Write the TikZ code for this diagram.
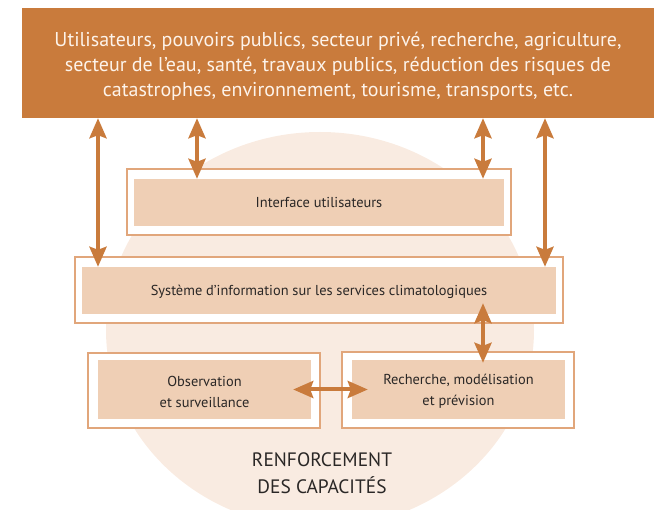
\documentclass[tikz,border=0pt]{standalone}
\usepackage{fontspec}
\setmainfont{PT Sans}
\usetikzlibrary{arrows.meta}
\definecolor{ocre}{HTML}{C97B3C}
\definecolor{peach}{HTML}{EFCFB5}
\definecolor{edge}{HTML}{E1A67B}
\definecolor{disc}{HTML}{F9EBE1}
\definecolor{txt}{HTML}{2A2726}
\definecolor{cream}{HTML}{FDF3EA}
\tikzset{
  outerbox/.style={draw=edge, line width=1.4pt, fill=white, inner sep=0pt},
  innerbox/.style={fill=peach, inner sep=0pt},
  boxtext/.style={text=txt, align=center, inner sep=0pt, font=\fontsize{14.4}{21}\selectfont},
  arr/.style={draw=ocre, line width=4pt, {Stealth[length=20pt,width=17pt,inset=3pt]}-{Stealth[length=20pt,width=17pt,inset=3pt]}},
}
\begin{document}
\begin{tikzpicture}[x=1pt,y=-1pt]
\useasboundingbox (0,0) rectangle (654,510);
% disc
\fill[disc] (320,330) ellipse [x radius=214, y radius=198];
% top box
\node[fill=ocre, minimum width=632pt, minimum height=110pt, inner sep=0pt] (top) at (338,63) {};
\node[text=cream, align=center, inner sep=0pt, font=\fontsize{20}{25}\selectfont] (toptxt) at ([yshift=-3pt]top.center)
  {Utilisateurs, pouvoirs publics, secteur privé, recherche, agriculture,\\
   secteur de l’eau, santé, travaux publics, réduction des risques de\\
   catastrophes, environnement, tourisme, transports, etc.};
% interface
\node[outerbox, minimum width=384pt, minimum height=66pt] (intout) at (319,202) {};
\node[innerbox, minimum width=370pt, minimum height=47pt] (intin) at (319,202.5) {};
\node[boxtext] (inttxt) at (intin.center) {Interface utilisateurs};
% SIS
\node[outerbox, minimum width=488pt, minimum height=66pt] (sisout) at (319,290) {};
\node[innerbox, minimum width=474pt, minimum height=47pt] (sisin) at (319,290.5) {};
\node[boxtext] (sistxt) at ([yshift=-1pt]sisin.center) {Système d’information sur les services climatologiques};
% observation
\node[outerbox, minimum width=232pt, minimum height=75pt] (obsout) at (204,390.5) {};
\node[innerbox, minimum width=213pt, minimum height=59pt] (obsin) at (204.5,389.5) {};
\node[boxtext] (obstxt) at ([yshift=-2pt]obsin.center) {Observation\\ et surveillance};
% recherche
\node[outerbox, minimum width=232pt, minimum height=76pt] (rechout) at (458,390) {};
\node[innerbox, minimum width=213pt, minimum height=59pt] (rechin) at (458.5,389.5) {};
\node[boxtext] (rechtxt) at ([yshift=-2pt]rechin.center) {Recherche, modélisation\\ et prévision};
% label
\node[text=txt, align=center, font=\fontsize{19.4}{27}\selectfont] (rc) at (322,473.5) {RENFORCEMENT\\ DES CAPACITÉS};
% arrows
\draw[arr] (top.south -| 98,0) -- (sisin.north -| 98,0);
\draw[arr] (top.south -| 197,0) -- (intin.north -| 197,0);
\draw[arr] (top.south -| 483,0) -- (intin.north -| 483,0);
\draw[arr] (top.south -| 545,0) -- (sisin.north -| 545,0);
\draw[arr, shorten <=-11pt, shorten >=-3pt] (sisin.south -| 483,0) -- (rechin.north -| 483,0);
\draw[arr, shorten <=-18pt, shorten >=-16pt] (obsin.east) -- (rechin.west);
\end{tikzpicture}
\end{document}
